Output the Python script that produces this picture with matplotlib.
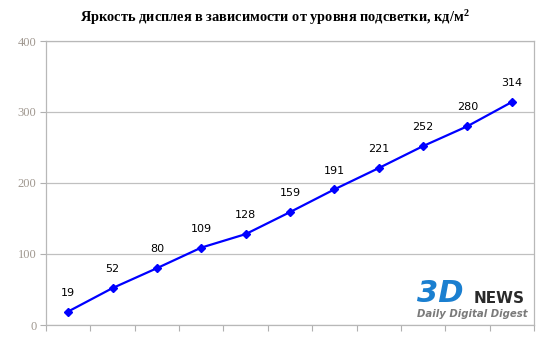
import numpy as np
import matplotlib.pyplot as plt

# Brightness vs backlight level (11 steps)
levels = list(range(1, 12))
brightness = [19, 52, 80, 109, 128, 159, 191, 221, 252, 280, 314]
y_ticks = [0, 100, 200, 300, 400]

fig = plt.figure(figsize=(5.5, 3.56), dpi=100)
ax = fig.add_axes([46 / 550, 1 - 325 / 356, 488 / 550, 284 / 356])

x = np.arange(len(levels)) + 0.5
ax.plot(x, brightness, color='#0000ff', lw=1.6, marker='D', ms=4,
        markeredgecolor='#0000ff', zorder=3)

for xi, v in zip(x, brightness):
    ax.annotate(str(v), (xi, v), xytext=(0, 10), textcoords='offset points',
                ha='center', va='bottom', fontsize=8, family='DejaVu Sans')

ax.set_xlim(0, len(levels))
ax.set_ylim(0, 400)
ax.set_yticks(y_ticks)
ax.set_yticklabels([str(t) for t in y_ticks], color='#a09890', fontsize=9,
                   family='Liberation Serif')
ax.set_xticks(np.arange(len(levels) + 1))
ax.set_xticklabels([])
ax.tick_params(axis='y', length=4, color='#b0b0b0', pad=3)
ax.tick_params(axis='x', length=4, color='#b0b0b0')
ax.grid(axis='y', color='#c0c0c0', lw=0.9)
ax.set_axisbelow(True)
for s in ax.spines.values():
    s.set_color('#b8b8b8')
    s.set_linewidth(0.9)

fig.text(0.5, 1 - 17 / 356, 'Яркость дисплея в зависимости от уровня подсветки, кд/м$^\\mathregular{2}$',
         ha='center', va='center', fontsize=10.4, fontweight='bold',
         family='Liberation Serif')

# 3DNews logo approximation
fig.text(417 / 550, 1 - 302 / 356, '3D', fontsize=22, fontweight='bold',
         style='italic', color='#1a7fd0', ha='left', va='baseline')
fig.text(474 / 550, 1 - 303 / 356, 'NEWS', fontsize=11, fontweight='bold',
         color='#2a2a2a', ha='left', va='baseline')
fig.text(417 / 550, 1 - 317 / 356, 'Daily Digital Digest', fontsize=7.3,
         fontweight='bold', style='italic', color='#7a7a7a',
         ha='left', va='baseline')

fig.savefig('out.png', dpi=100)
